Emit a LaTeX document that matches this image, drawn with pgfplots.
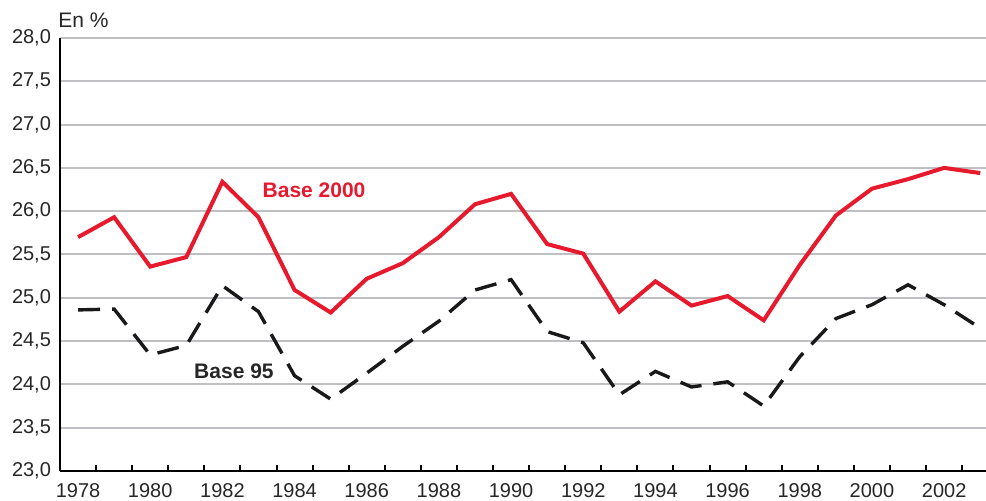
\documentclass[border=0pt]{standalone}
\usepackage{fontspec}
\setmainfont{Liberation Sans}
\usepackage{pgfplots}
\pgfplotsset{compat=1.18}
\definecolor{myred}{RGB}{230,25,45}
\definecolor{mygrid}{RGB}{190,190,195}
\begin{document}
\begin{tikzpicture}
\begin{axis}[
  scale only axis,
  width=463pt, height=216.5pt,
  xmin=1977.5, xmax=2003.16,
  ymin=23, ymax=28,
  axis x line*=bottom, axis y line*=left,
  axis line style={black, line width=1.3pt},
  xtick={1978,1980,...,2002},
  minor xtick={1978.5,1979.5,...,2002.5},
  major x tick style={draw=none},
  minor x tick style={black, line width=1pt},
  minor tick length=3pt,
  xtick pos=bottom,
  ytick={23,23.5,...,28},
  major y tick style={draw=none},
  ymajorgrids,
  grid style={mygrid, line width=1pt},
  tick align=inside,
  every tick label/.append style={font=\fontsize{10}{12}\selectfont, text=black!85},
  xticklabel style={yshift=-2.5pt},
  yticklabel style={xshift=-1pt},
  /pgf/number format/assume math mode=true,
  x tick label style={/pgf/number format/1000 sep={}},
  y tick label style={/pgf/number format/.cd, use comma, fixed, fixed zerofill, precision=1},
  clip=false,
]
\addplot[myred, line width=2pt] coordinates {
(1978,25.70) (1979,25.93) (1980,25.36) (1981,25.47) (1982,26.34) (1983,25.93)
(1984,25.09) (1985,24.83) (1986,25.22) (1987,25.40) (1988,25.70) (1989,26.08)
(1990,26.20) (1991,25.62) (1992,25.51) (1993,24.84) (1994,25.19) (1995,24.91)
(1996,25.02) (1997,24.74) (1998,25.38) (1999,25.95) (2000,26.26) (2001,26.37)
(2002,26.50) (2003,26.44)
};
\addplot[black!90, line width=1.7pt, dash pattern=on 11pt off 6pt] coordinates {
(1978,24.86) (1979,24.87) (1980,24.34) (1981,24.45) (1982,25.14) (1983,24.84)
(1984,24.10) (1985,23.83) (1986,24.13) (1987,24.44) (1988,24.73) (1989,25.09)
(1990,25.21) (1991,24.61) (1992,24.48) (1993,23.88) (1994,24.15) (1995,23.97)
(1996,24.03) (1997,23.75) (1998,24.32) (1999,24.76) (2000,24.92) (2001,25.15)
(2002,24.92) (2003,24.65)
};
\node[font=\fontsize{10.5}{12}\selectfont\bfseries, text=myred] at (axis cs:1984.54,26.24) {Base 2000};
\node[font=\fontsize{10.5}{12}\selectfont\bfseries, text=black!85] at (axis cs:1982.32,24.147) {Base 95};
\node[font=\fontsize{10.5}{12}\selectfont, text=black!85, anchor=base west, inner sep=0pt] at ([shift={(-1pt,5pt)}]rel axis cs:0,1) {En \%};
\coordinate (bl) at (rel axis cs:0,0);
\coordinate (tr) at (rel axis cs:1,1);
\end{axis}
\pgfresetboundingbox
\path ([shift={(-30pt,-15pt)}]bl) rectangle ([shift={(0pt,19pt)}]tr);
\end{tikzpicture}
\end{document}
